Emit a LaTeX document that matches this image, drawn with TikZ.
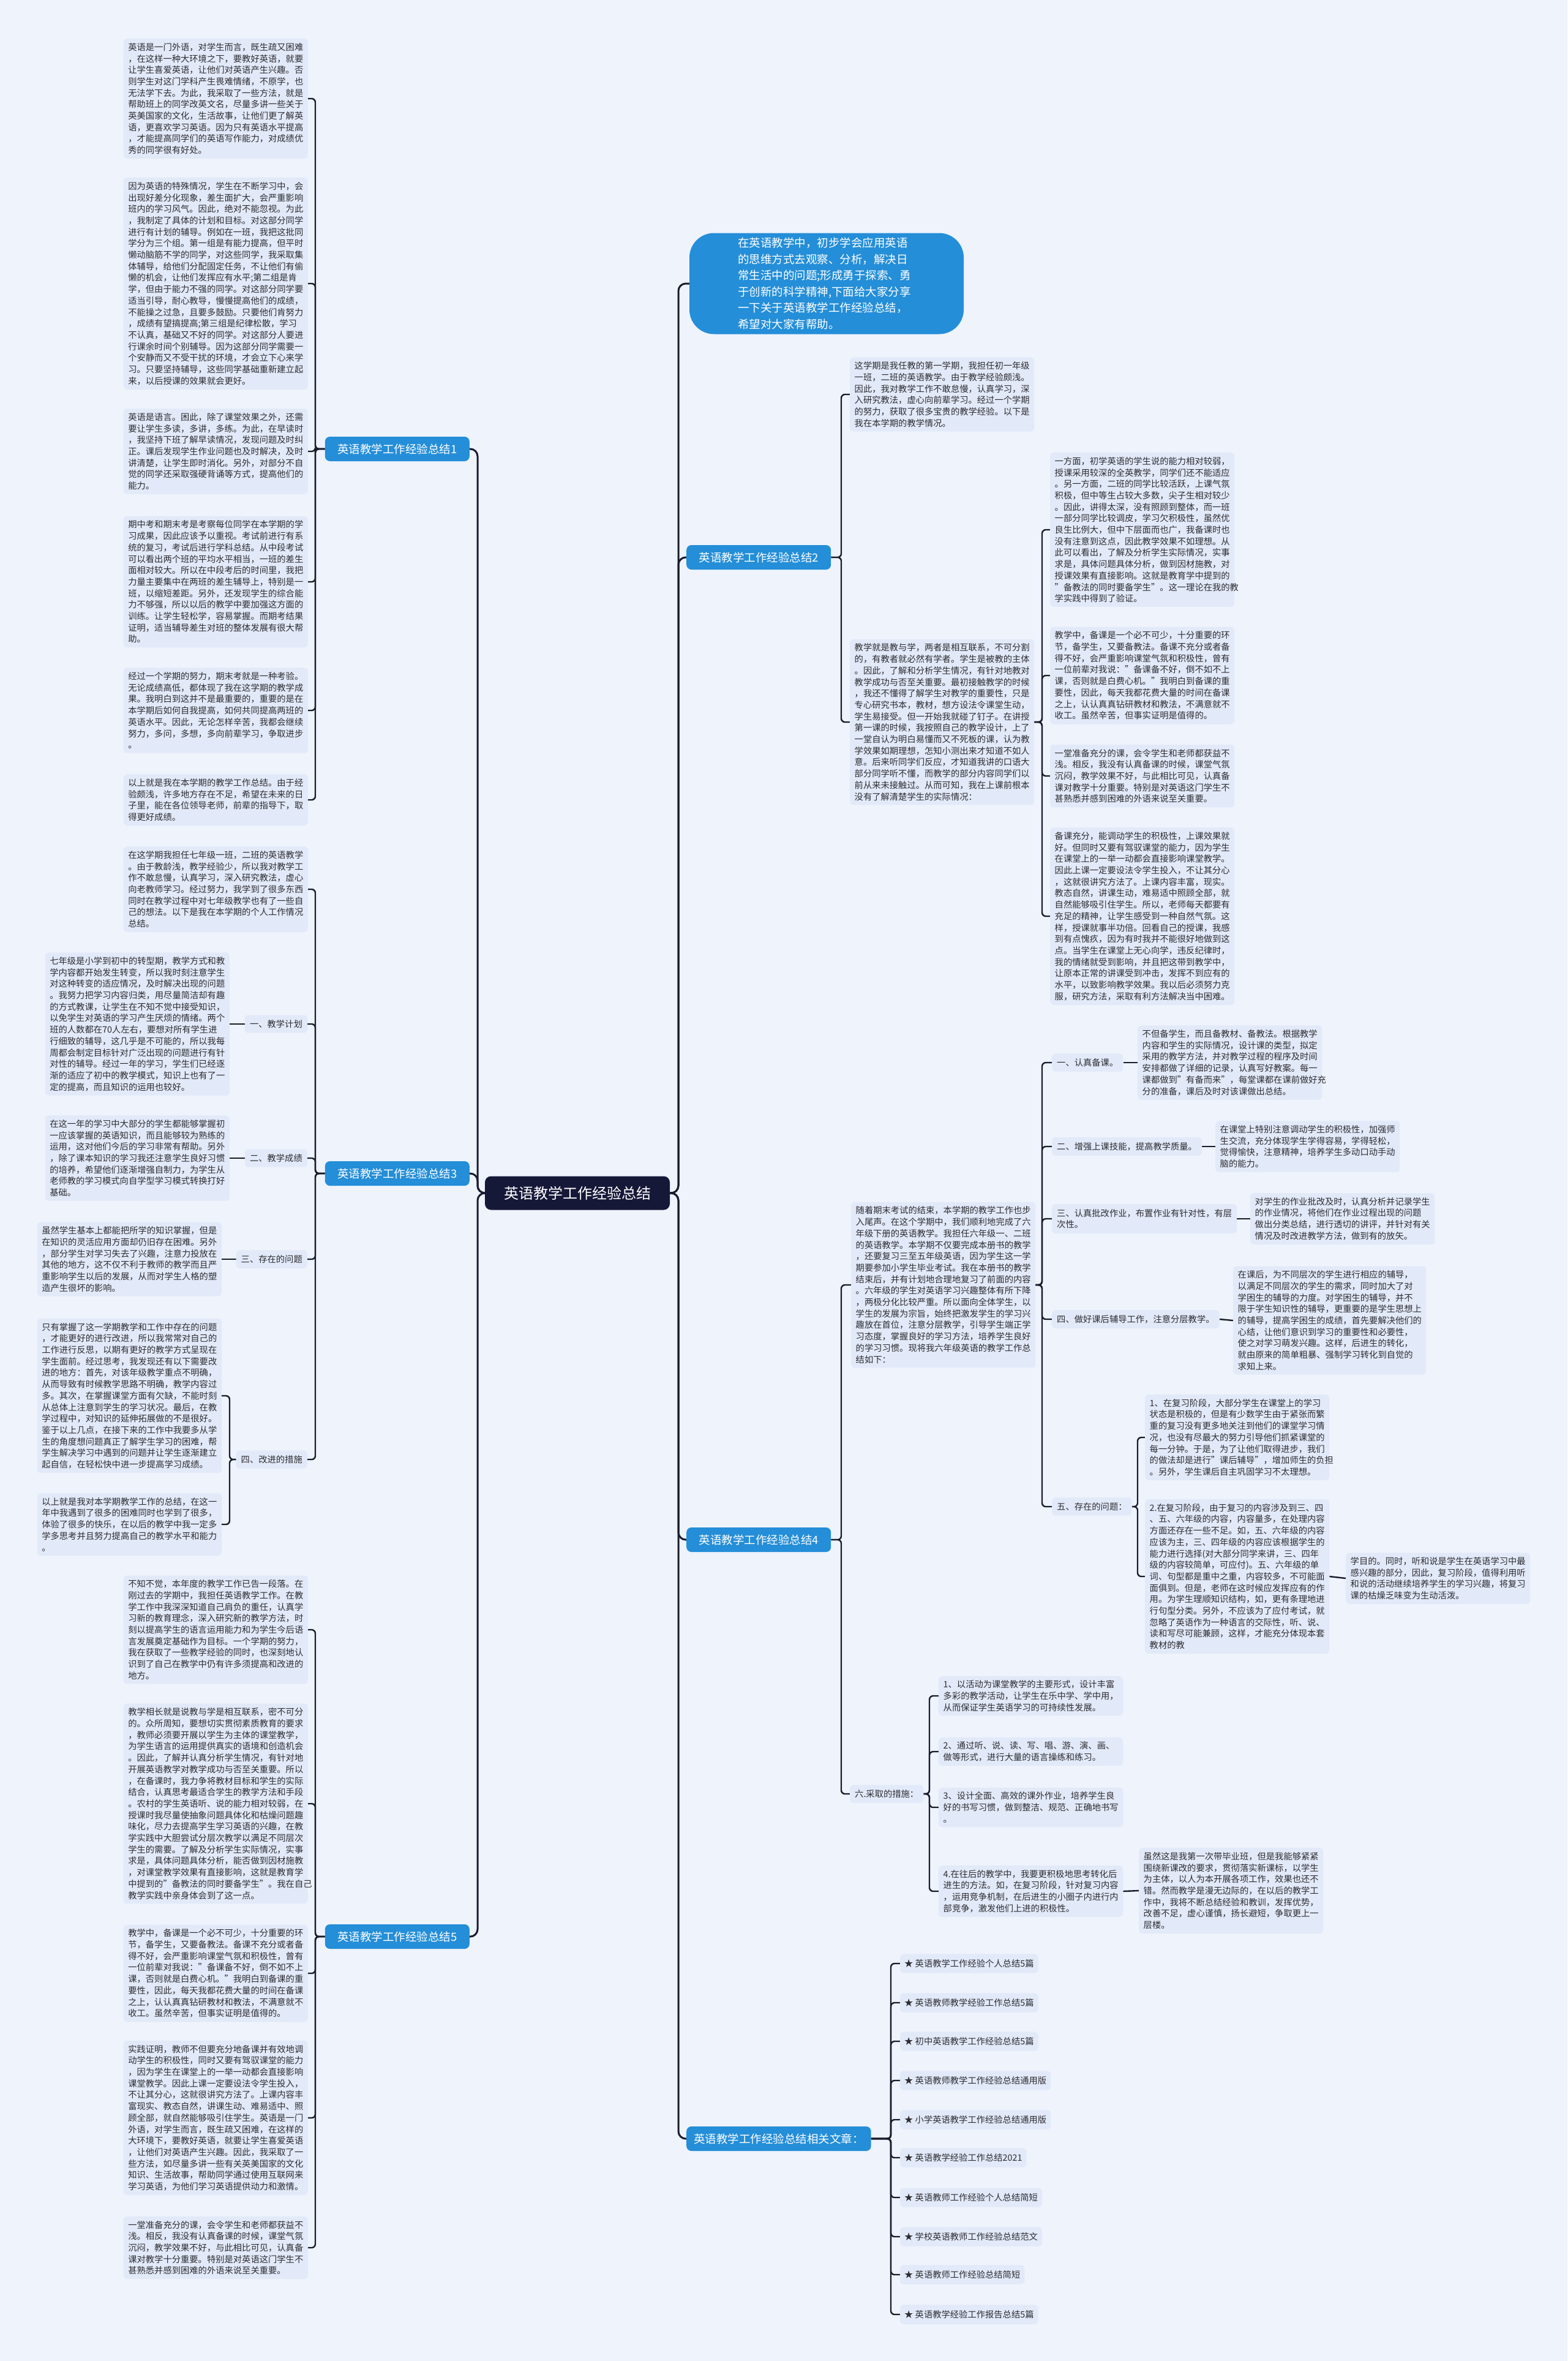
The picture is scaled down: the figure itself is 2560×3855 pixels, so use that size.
\documentclass[tikz,border=0pt]{standalone}
\usepackage{fontspec}
\setmainfont{Noto Sans CJK SC}
\usetikzlibrary{backgrounds}
\definecolor{bgc}{RGB}{238,243,252}
\definecolor{leafc}{RGB}{226,233,248}
\definecolor{txt}{RGB}{45,45,50}
\definecolor{bluec}{RGB}{36,142,216}
\definecolor{navy}{RGB}{22,24,56}
\definecolor{linec}{RGB}{26,28,45}
\begin{document}
\begin{tikzpicture}[x=1pt,y=-1pt,
  leaf/.style={fill=leafc, rounded corners=6pt, text=txt, font=\fontsize{14.3}{18.7}\selectfont, align=left, inner xsep=7.5pt, inner ysep=7pt, text width=286pt},
  lab/.style={fill=leafc, rounded corners=6pt, text=txt, font=\fontsize{14.3}{18.7}\selectfont, align=left, inner xsep=8pt, inner ysep=8pt},
  ritem/.style={fill=leafc, rounded corners=6pt, text=txt, font=\fontsize{14.3}{17}\selectfont, inner xsep=7pt, inner ysep=9pt, anchor=west},
  br/.style={fill=bluec, text=white, rounded corners=8pt, minimum height=40pt, minimum width=236pt, font=\fontsize{18.5}{22}\selectfont, inner xsep=12pt},
  ctr/.style={fill=navy, text=white, rounded corners=10pt, minimum width=302pt, minimum height=55pt, font=\fontsize{24}{28}\selectfont},
  bubble/.style={fill=bluec, text=white, rounded corners=40pt, minimum width=448pt, minimum height=165pt, font=\fontsize{18.5}{26.5}\selectfont, align=left, text width=290pt},
  conn/.style={draw=linec, line width=2.4pt, rounded corners=6pt},
  mainc/.style={draw=linec, line width=3pt, rounded corners=12pt}]
\useasboundingbox (0,0) rectangle (2560,3855);

% ---------- centre, bubble, branches ----------
\node[ctr] (C) at (943,1948) {英语教学工作经验总结};
\node[bubble] (B) at (1350,463) {在英语教学中，初步学会应用英语\\的思维方式去观察、分析，解决日\\常生活中的问题;形成勇于探索、勇\\于创新的科学精神,下面给大家分享\\一下关于英语教学工作经验总结，\\希望对大家有帮助。};
\node[br, anchor=east] (b1) at (767,733) {英语教学工作经验总结1};
\node[br, anchor=east] (b3) at (767,1916) {英语教学工作经验总结3};
\node[br, anchor=east] (b5) at (767,3162) {英语教学工作经验总结5};
\node[br, anchor=west] (b2) at (1121,910) {英语教学工作经验总结2};
\node[br, anchor=west] (b4) at (1121,2514) {英语教学工作经验总结4};
\node[br, anchor=west] (rel) at (1121,3492) {英语教学工作经验总结相关文章：};

% ---------- section 1 ----------
\node[leaf, anchor=east] (s1a) at (503,161) {英语是一门外语，对学生而言，既生疏又困难\\，在这样一种大环境之下，要教好英语，就要\\让学生喜爱英语，让他们对英语产生兴趣。否\\则学生对这门学科产生畏难情绪，不原学，也\\无法学下去。为此，我采取了一些方法，就是\\帮助班上的同学改英文名，尽量多讲一些关于\\英美国家的文化，生活故事，让他们更了解英\\语，更喜欢学习英语。因为只有英语水平提高\\，才能提高同学们的英语写作能力，对成绩优\\秀的同学很有好处。};
\node[leaf, anchor=east] (s1b) at (503,463) {因为英语的特殊情况，学生在不断学习中，会\\出现好差分化现象，差生面扩大，会严重影响\\班内的学习风气。因此，绝对不能忽视。为此\\，我制定了具体的计划和目标。对这部分同学\\进行有计划的辅导。例如在一班，我把这批同\\学分为三个组。第一组是有能力提高，但平时\\懒动脑筋不学的同学，对这些同学，我采取集\\体辅导，给他们分配固定任务，不让他们有偷\\懒的机会，让他们发挥应有水平;第二组是肯\\学，但由于能力不强的同学。对这部分同学要\\适当引导，耐心教导，慢慢提高他们的成绩，\\不能操之过急，且要多鼓励。只要他们肯努力\\，成绩有望搞提高;第三组是纪律松散，学习\\不认真，基础又不好的同学。对这部分人要进\\行课余时间个别辅导。因为这部分同学需要一\\个安静而又不受干扰的环境，才会立下心来学\\习。只要坚持辅导，这些同学基础重新建立起\\来，以后授课的效果就会更好。};
\node[leaf, anchor=east] (s1c) at (503,737) {英语是语言。困此，除了课堂效果之外，还需\\要让学生多读，多讲，多练。为此，在早读时\\，我坚持下班了解早读情况，发现问题及时纠\\正。课后发现学生作业问题也及时解决，及时\\讲清楚，让学生即时消化。另外，对部分不自\\觉的同学还采取强硬背诵等方式，提高他们的\\能力。};
\node[leaf, anchor=east] (s1d) at (503,950) {期中考和期末考是考察每位同学在本学期的学\\习成果，因此应该予以重视。考试前进行有系\\统的复习，考试后进行学科总结。从中段考试\\可以看出两个班的平均水平相当，一班的差生\\面相对较大。所以在中段考后的时间里，我把\\力量主要集中在两班的差生辅导上，特别是一\\班，以缩短差距。另外，还发现学生的综合能\\力不够强，所以以后的教学中要加强这方面的\\训练。让学生轻松学，容易掌握。而期考结果\\证明，适当辅导差生对班的整体发展有很大帮\\助。};
\node[leaf, anchor=east] (s1e) at (503,1160) {经过一个学期的努力，期末考就是一种考验。\\无论成绩高低，都体现了我在这学期的教学成\\果。我明白到这并不是最重要的，重要的是在\\本学期后如何自我提高，如何共同提高两班的\\英语水平。因此，无论怎样辛苦，我都会继续\\努力，多问，多想，多向前辈学习，争取进步\\。};
\node[leaf, anchor=east] (s1f) at (503,1306) {以上就是我在本学期的教学工作总结。由于经\\验颇浅，许多地方存在不足，希望在未来的日\\子里，能在各位领导老师，前辈的指导下，取\\得更好成绩。};

% ---------- section 3 ----------
\node[leaf, anchor=east] (s3i) at (503,1452) {在这学期我担任七年级一班，二班的英语教学\\。由于教龄浅，教学经验少，所以我对教学工\\作不敢怠慢，认真学习，深入研究教法，虚心\\向老教师学习。经过努力，我学到了很多东西\\同时在教学过程中对七年级教学也有了一些自\\己的想法。以下是我在本学期的个人工作情况\\总结。};
\node[lab, anchor=east] (s3L1) at (502,1672) {一、教学计划};
\node[lab, anchor=east] (s3L2) at (502,1891) {二、教学成绩};
\node[lab, anchor=east] (s3L3) at (502,2056) {三、存在的问题};
\node[lab, anchor=east] (s3L4) at (502,2383) {四、改进的措施};
\node[leaf, anchor=east] (s3l1) at (375,1672) {七年级是小学到初中的转型期，教学方式和教\\学内容都开始发生转变，所以我时刻注意学生\\对这种转变的适应情况，及时解决出现的问题\\。我努力把学习内容归类，用尽量简洁却有趣\\的方式教课，让学生在不知不觉中接受知识，\\以免学生对英语的学习产生厌烦的情绪。两个\\班的人数都在70人左右，要想对所有学生进\\行细致的辅导，这几乎是不可能的，所以我每\\周都会制定目标针对广泛出现的问题进行有针\\对性的辅导。经过一年的学习，学生们已经逐\\渐的适应了初中的教学模式，知识上也有了一\\定的提高，而且知识的运用也较好。};
\node[leaf, anchor=east] (s3l2) at (375,1891) {在这一年的学习中大部分的学生都能够掌握初\\一应该掌握的英语知识，而且能够较为熟练的\\运用，这对他们今后的学习非常有帮助。另外\\，除了课本知识的学习我还注意学生良好习惯\\的培养，希望他们逐渐增强自制力，为学生从\\老师教的学习模式向自学型学习模式转换打好\\基础。};
\node[leaf, anchor=east] (s3l3) at (362,2056) {虽然学生基本上都能把所学的知识掌握，但是\\在知识的灵活应用方面却仍旧存在困难。另外\\，部分学生对学习失去了兴趣，注意力投放在\\其他的地方，这不仅不利于教师的教学而且严\\重影响学生以后的发展，从而对学生人格的塑\\造产生很坏的影响。};
\node[leaf, anchor=east] (s3l4a) at (362,2279) {只有掌握了这一学期教学和工作中存在的问题\\，才能更好的进行改进，所以我常常对自己的\\工作进行反思，以期有更好的教学方式呈现在\\学生面前。经过思考，我发现还有以下需要改\\进的地方：首先，对该年级教学重点不明确，\\从而导致有时候教学思路不明确，教学内容过\\多。其次，在掌握课堂方面有欠缺，不能时刻\\从总体上注意到学生的学习状况。最后，在教\\学过程中，对知识的延伸拓展做的不是很好。\\鉴于以上几点，在接下来的工作中我要多从学\\生的角度想问题真正了解学生学习的困难，帮\\学生解决学习中遇到的问题并让学生逐渐建立\\起自信，在轻松快中进一步提高学习成绩。};
\node[leaf, anchor=east] (s3l4b) at (362,2489) {以上就是我对本学期教学工作的总结，在这一\\年中我遇到了很多的困难同时也学到了很多，\\体验了很多的快乐，在以后的教学中我一定多\\学多思考并且努力提高自己的教学水平和能力\\。};

% ---------- section 5 ----------
\node[leaf, anchor=east] (s5a) at (503,2661) {不知不觉，本年度的教学工作已告一段落。在\\刚过去的学期中，我担任英语教学工作。在教\\学工作中我深深知道自己肩负的重任，认真学\\习新的教育理念，深入研究新的教学方法，时\\刻以提高学生的语言运用能力和为学生今后语\\言发展奠定基础作为目标。一个学期的努力，\\我在获取了一些教学经验的同时，也深刻地认\\识到了自己在教学中仍有许多须提高和改进的\\地方。};
\node[leaf, anchor=east] (s5b) at (503,2945) {教学相长就是说教与学是相互联系，密不可分\\的。众所周知，要想切实贯彻素质教育的要求\\，教师必须要开展以学生为主体的课堂教学，\\为学生语言的运用提供真实的语境和创造机会\\。因此，了解并认真分析学生情况，有针对地\\开展英语教学对教学成功与否至关重要。所以\\，在备课时，我力争将教材目标和学生的实际\\结合，认真思考最适合学生的教学方法和手段\\。农村的学生英语听、说的能力相对较弱，在\\授课时我尽量使抽象问题具体化和枯燥问题趣\\味化，尽力去提高学生学习英语的兴趣，在教\\学实践中大胆尝试分层次教学以满足不同层次\\学生的需要。了解及分析学生实际情况，实事\\求是，具体问题具体分析，能否做到因材施教\\，对课堂教学效果有直接影响，这就是教育学\\中提到的"备教法的同时要备学生"。我在自己\\教学实践中亲身体会到了这一点。};
\node[leaf, anchor=east] (s5c) at (503,3222) {教学中，备课是一个必不可少，十分重要的环\\节，备学生，又要备教法。备课不充分或者备\\得不好，会严重影响课堂气氛和积极性，曾有\\一位前辈对我说："备课备不好，倒不如不上\\课，否则就是白费心机。"我明白到备课的重\\要性，因此，每天我都花费大量的时间在备课\\之上，认认真真钻研教材和教法，不满意就不\\收工。虽然辛苦，但事实证明是值得的。};
\node[leaf, anchor=east] (s5d) at (503,3458) {实践证明，教师不但要充分地备课并有效地调\\动学生的积极性，同时又要有驾驭课堂的能力\\，因为学生在课堂上的一举一动都会直接影响\\课堂教学。因此上课一定要设法令学生投入，\\不让其分心，这就很讲究方法了。上课内容丰\\富现实、教态自然，讲课生动、难易适中、照\\顾全部，就自然能够吸引住学生。英语是一门\\外语，对学生而言，既生疏又困难，在这样的\\大环境下，要教好英语，就要让学生喜爱英语\\，让他们对英语产生兴趣。因此，我采取了一\\些方法，如尽量多讲一些有关英美国家的文化\\知识、生活故事，帮助同学通过使用互联网来\\学习英语，为他们学习英语提供动力和激情。};
\node[leaf, anchor=east] (s5e) at (503,3670) {一堂准备充分的课，会令学生和老师都获益不\\浅。相反，我没有认真备课的时候，课堂气氛\\沉闷，教学效果不好，与此相比可见，认真备\\课对教学十分重要。特别是对英语这门学生不\\甚熟悉并感到困难的外语来说至关重要。};

% ---------- section 2 ----------
\node[leaf, anchor=west] (s2a) at (1388,644) {这学期是我任教的第一学期，我担任初一年级\\一班，二班的英语教学。由于教学经验颇浅。\\因此，我对教学工作不敢怠慢，认真学习，深\\入研究教法，虚心向前辈学习。经过一个学期\\的努力，获取了很多宝贵的教学经验。以下是\\我在本学期的教学情况。};
\node[leaf, anchor=west] (s2b) at (1388,1179) {教学就是教与学，两者是相互联系，不可分割\\的，有教者就必然有学者。学生是被教的主体\\。因此，了解和分析学生情况，有针对地教对\\教学成功与否至关重要。最初接触教学的时候\\，我还不懂得了解学生对教学的重要性，只是\\专心研究书本，教材，想方设法令课堂生动，\\学生易接受。但一开始我就碰了钉子。在讲授\\第一课的时候，我按照自己的教学设计，上了\\一堂自认为明白易懂而又不死板的课，认为教\\学效果如期理想，怎知小测出来才知道不如人\\意。后来听同学们反应，才知道我讲的口语大\\部分同学听不懂，而教学的部分内容同学们以\\前从来未接触过。从而可知，我在上课前根本\\没有了解清楚学生的实际情况：};
\node[leaf, anchor=west] (s2b1) at (1715,865) {一方面，初学英语的学生说的能力相对较弱，\\授课采用较深的全英教学，同学们还不能适应\\。另一方面，二班的同学比较活跃，上课气氛\\积极，但中等生占较大多数，尖子生相对较少\\。因此，讲得太深，没有照顾到整体，而一班\\一部分同学比较调皮，学习欠积极性，虽然优\\良生比例大，但中下层面而也广，我备课时也\\没有注意到这点，因此教学效果不如理想。从\\此可以看出，了解及分析学生实际情况，实事\\求是，具体问题具体分析，做到因材施教，对\\授课效果有直接影响。这就是教育学中提到的\\"备教法的同时要备学生"。这一理论在我的教\\学实践中得到了验证。};
\node[leaf, anchor=west] (s2b2) at (1715,1103) {教学中，备课是一个必不可少，十分重要的环\\节，备学生，又要备教法。备课不充分或者备\\得不好，会严重影响课堂气氛和积极性，曾有\\一位前辈对我说："备课备不好，倒不如不上\\课，否则就是白费心机。"我明白到备课的重\\要性，因此，每天我都花费大量的时间在备课\\之上，认认真真钻研教材和教法，不满意就不\\收工。虽然辛苦，但事实证明是值得的。};
\node[leaf, anchor=west] (s2b3) at (1715,1267) {一堂准备充分的课，会令学生和老师都获益不\\浅。相反，我没有认真备课的时候，课堂气氛\\沉闷，教学效果不好，与此相比可见，认真备\\课对教学十分重要。特别是对英语这门学生不\\甚熟悉并感到困难的外语来说至关重要。};
\node[leaf, anchor=west] (s2b4) at (1715,1496) {备课充分，能调动学生的积极性，上课效果就\\好。但同时又要有驾驭课堂的能力，因为学生\\在课堂上的一举一动都会直接影响课堂教学。\\因此上课一定要设法令学生投入，不让其分心\\，这就很讲究方法了。上课内容丰富，现实。\\教态自然，讲课生动，难易适中照顾全部，就\\自然能够吸引住学生。所以，老师每天都要有\\充足的精神，让学生感受到一种自然气氛。这\\样，授课就事半功倍。回看自己的授课，我感\\到有点愧疚，因为有时我并不能很好地做到这\\点。当学生在课堂上无心向学，违反纪律时，\\我的情绪就受到影响，并且把这带到教学中，\\让原本正常的讲课受到冲击，发挥不到应有的\\水平，以致影响教学效果。我以后必须努力克\\服，研究方法，采取有利方法解决当中困难。};

% ---------- section 4 ----------
\node[leaf, anchor=west] (s4i) at (1390,2098) {随着期末考试的结束，本学期的教学工作也步\\入尾声。在这个学期中，我们顺利地完成了六\\年级下册的英语教学。我担任六年级一、二班\\的英语教学。本学期不仅要完成本册书的教学\\，还要复习三至五年级英语，因为学生这一学\\期要参加小学生毕业考试。我在本册书的教学\\结束后，并有计划地合理地复习了前面的内容\\。六年级的学生对英语学习兴趣整体有所下降\\，两极分化比较严重。所以面向全体学生，以\\学生的发展为宗旨，始终把激发学生的学习兴\\趣放在首位，注意分层教学，引导学生端正学\\习态度，掌握良好的学习方法，培养学生良好\\的学习习惯。现将我六年级英语的教学工作总\\结如下：};
\node[lab, anchor=west] (s4L1) at (1718,1735) {一、认真备课。};
\node[lab, anchor=west] (s4L2) at (1718,1872) {二、增强上课技能，提高教学质量。};
\node[lab, anchor=west] (s4L3) at (1718,1990) {三、认真批改作业，布置作业有针对性，有层\\次性。};
\node[lab, anchor=west] (s4L4) at (1718,2154) {四、做好课后辅导工作，注意分层教学。};
\node[lab, anchor=west] (s4L5) at (1718,2460) {五、存在的问题：};
\node[lab, anchor=west] (s4L6) at (1388,2929) {六.采取的措施：};
\node[leaf, anchor=west] (s41) at (1858,1735) {不但备学生，而且备教材、备教法。根据教学\\内容和学生的实际情况，设计课的类型，拟定\\采用的教学方法，并对教学过程的程序及时间\\安排都做了详细的记录，认真写好教案。每一\\课都做到"有备而来"，每堂课都在课前做好充\\分的准备，课后及时对该课做出总结。};
\node[leaf, anchor=west] (s42) at (1985,1872) {在课堂上特别注意调动学生的积极性，加强师\\生交流，充分体现学生学得容易，学得轻松，\\觉得愉快，注意精神，培养学生多动口动手动\\脑的能力。};
\node[leaf, anchor=west] (s43) at (2042,1990) {对学生的作业批改及时，认真分析并记录学生\\的作业情况，将他们在作业过程出现的问题\\做出分类总结，进行透切的讲评，并针对有关\\情况及时改进教学方法，做到有的放矢。};
\node[leaf, anchor=west, text width=300pt] (s44) at (2014,2156) {在课后，为不同层次的学生进行相应的辅导，\\以满足不同层次的学生的需求，同时加大了对\\学困生的辅导的力度。对学困生的辅导，并不\\限于学生知识性的辅导，更重要的是学生思想上\\的辅导，提高学困生的成绩，首先要解决他们的\\心结，让他们意识到学习的重要性和必要性，\\使之对学习萌发兴趣。这样，后进生的转化，\\就由原来的简单粗暴、强制学习转化到自觉的\\求知上来。};
\node[leaf, anchor=west] (s45a) at (1870,2347) {1、在复习阶段，大部分学生在课堂上的学习\\状态是积极的，但是有少数学生由于紧张而繁\\重的复习没有更多地关注到他们的课堂学习情\\况，也没有尽最大的努力引导他们抓紧课堂的\\每一分钟。于是，为了让他们取得进步，我们\\的做法却是进行"课后辅导"，增加师生的负担\\。另外，学生课后自主巩固学习不太理想。};
\node[leaf, anchor=west] (s45b) at (1870,2574) {2.在复习阶段，由于复习的内容涉及到三、四\\、五、六年级的内容，内容量多，在处理内容\\方面还存在一些不足。如，五、六年级的内容\\应该为主，三、四年级的内容应该根据学生的\\能力进行选择(对大部分同学来讲，三、四年\\级的内容较简单，可应付)。五、六年级的单\\词、句型都是重中之重，内容较多，不可能面\\面俱到。但是，老师在这时候应发挥应有的作\\用。为学生理顺知识结构，如，更有条理地进\\行句型分类。另外，不应该为了应付考试，就\\忽略了英语作为一种语言的交际性，听、说、\\读和写尽可能兼顾，这样，才能充分体现本套\\教材的教};
\node[leaf, anchor=west] (s45c) at (2198,2577) {学目的。同时，听和说是学生在英语学习中最\\感兴趣的部分，因此，复习阶段，值得利用听\\和说的活动继续培养学生的学习兴趣，将复习\\课的枯燥乏味变为生动活泼。};
\node[leaf, anchor=west] (s46a) at (1533,2769) {1、以活动为课堂教学的主要形式，设计丰富\\多彩的教学活动，让学生在乐中学、学中用，\\从而保证学生英语学习的可持续性发展。};
\node[leaf, anchor=west] (s46b) at (1533,2860) {2、通过听、说、读、写、唱、游、演、画、\\做等形式，进行大量的语言操练和练习。};
\node[leaf, anchor=west] (s46c) at (1533,2951) {3、设计全面、高效的课外作业，培养学生良\\好的书写习惯，做到整洁、规范、正确地书写\\。};
\node[leaf, anchor=west] (s46d) at (1533,3088) {4.在往后的教学中，我要更积极地思考转化后\\进生的方法。如，在复习阶段，针对复习内容\\，运用竞争机制，在后进生的小圈子内进行内\\部竞争，激发他们上进的积极性。};
\node[leaf, anchor=west] (s46e) at (1860,3087) {虽然这是我第一次带毕业班，但是我能够紧紧\\围绕新课改的要求，贯彻落实新课标，以学生\\为主体，以人为本开展各项工作，效果也还不\\错。然而教学是漫无边际的，在以后的教学工\\作中，我将不断总结经验和教训，发挥优势，\\改善不足，虚心谨慎，扬长避短，争取更上一\\层楼。};

% ---------- related ----------
\node[ritem] (r1) at (1470,3206) {★ 英语教学工作经验个人总结5篇};
\node[ritem] (r2) at (1470,3270) {★ 英语教师教学经验工作总结5篇};
\node[ritem] (r3) at (1470,3333) {★ 初中英语教学工作经验总结5篇};
\node[ritem] (r4) at (1470,3397) {★ 英语教师教学工作经验总结通用版};
\node[ritem] (r5) at (1470,3461) {★ 小学英语教学工作经验总结通用版};
\node[ritem] (r6) at (1470,3523) {★ 英语教学经验工作总结2021};
\node[ritem] (r7) at (1470,3588) {★ 英语教师工作经验个人总结简短};
\node[ritem] (r8) at (1470,3652) {★ 学校英语教师工作经验总结范文};
\node[ritem] (r9) at (1470,3714) {★ 英语教师工作经验总结简短};
\node[ritem] (r10) at (1470,3779) {★ 英语教学经验工作报告总结5篇};

% ---------- bracket x positions ----------
\coordinate (mL) at (780,0);
\coordinate (mR) at (1108,0);
\coordinate (xL) at (515,0);
\coordinate (x34) at (375,0);
\coordinate (xR2) at (1374,0);
\coordinate (x2b) at (1702,0);
\coordinate (x45) at (1858,0);
\coordinate (x46) at (1518,0);
\coordinate (xRel) at (1455,0);

\begin{scope}[on background layer]
\fill[bgc] (0,0) rectangle (2560,3855);
% main connectors
\foreach \b in {b1,b3,b5} \draw[mainc] (C.center) -| (mL |- \b.east) -- (\b.east);
\foreach \b in {b2,b4,rel} \draw[mainc] (C.center) -| (mR |- \b.west) -- (\b.west);
\draw[mainc] (C.center) -| (mR |- B.west) -- (B.west);
% section 1
\foreach \n in {s1a,s1b,s1c,s1d,s1e,s1f} \draw[conn] (b1.west) -| (xL |- \n.east) -- (\n.east);
% section 3
\foreach \n in {s3i,s3L1,s3L2,s3L3,s3L4} \draw[conn] (b3.west) -| (xL |- \n.east) -- (\n.east);
\draw[conn] (s3L1.west) -- (s3l1.east);
\draw[conn] (s3L2.west) -- (s3l2.east);
\draw[conn] (s3L3.west) -- (s3l3.east);
\foreach \n in {s3l4a,s3l4b} \draw[conn] (s3L4.west) -| (x34 |- \n.east) -- (\n.east);
% section 5
\foreach \n in {s5a,s5b,s5c,s5d,s5e} \draw[conn] (b5.west) -| (xL |- \n.east) -- (\n.east);
% section 2
\foreach \n in {s2a,s2b} \draw[conn] (b2.east) -| (xR2 |- \n.west) -- (\n.west);
\foreach \n in {s2b1,s2b2,s2b3,s2b4} \draw[conn] (s2b.east) -| (x2b |- \n.west) -- (\n.west);
% section 4
\foreach \n in {s4i,s4L6} \draw[conn] (b4.east) -| (xR2 |- \n.west) -- (\n.west);
\foreach \n in {s4L1,s4L2,s4L3,s4L4,s4L5} \draw[conn] (s4i.east) -| (x2b |- \n.west) -- (\n.west);
\draw[conn] (s4L1.east) -- (s41.west);
\draw[conn] (s4L2.east) -- (s42.west);
\draw[conn] (s4L3.east) -- (s43.west);
\draw[conn] (s4L4.east) -- (s44.west);
\foreach \n in {s45a,s45b} \draw[conn] (s4L5.east) -| (x45 |- \n.west) -- (\n.west);
\draw[conn] (s45b.east) -- (s45c.west);
\foreach \n in {s46a,s46b,s46c,s46d} \draw[conn] (s4L6.east) -| (x46 |- \n.west) -- (\n.west);
\draw[conn] (s46d.east) -- (s46e.west);
% related
\foreach \n in {r1,r2,r3,r4,r5,r6,r7,r8,r9,r10} \draw[conn] (rel.east) -| (xRel |- \n.west) -- (\n.west);
\end{scope}
\end{tikzpicture}
\end{document}
